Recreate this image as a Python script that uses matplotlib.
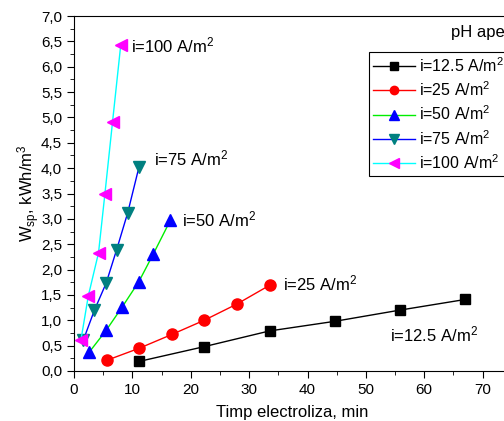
import numpy as np
import matplotlib
matplotlib.use("Agg")
import matplotlib.pyplot as plt
from matplotlib.ticker import MultipleLocator

plt.rcParams['font.family'] = ['Liberation Sans', 'DejaVu Sans']
plt.rcParams['mathtext.fontset'] = 'custom'
plt.rcParams['mathtext.rm'] = 'Liberation Sans'
plt.rcParams['mathtext.it'] = 'Liberation Sans'

# data
t_125 = [11.2, 22.3, 33.5, 44.7, 55.8, 67.0]
w_125 = [0.19, 0.48, 0.79, 0.98, 1.20, 1.41]

t_25 = [5.6, 11.2, 16.75, 22.3, 27.9, 33.5]
w_25 = [0.21, 0.45, 0.72, 1.00, 1.32, 1.69]

t_50 = [2.6, 5.5, 8.3, 11.1, 13.6, 16.5]
w_50 = [0.37, 0.80, 1.27, 1.76, 2.31, 2.97]

t_75 = [1.6, 3.5, 5.5, 7.3, 9.2, 11.15]
w_75 = [0.61, 1.20, 1.73, 2.39, 3.12, 4.03]

t_100 = [1.2, 2.45, 4.2, 5.3, 6.6, 8.0]
w_100 = [0.62, 1.48, 2.33, 3.50, 4.91, 6.42]

labels = ["i=12.5 A/m$^2$", "i=25 A/m$^2$", "i=50 A/m$^2$", "i=75 A/m$^2$", "i=100 A/m$^2$"]

fig = plt.figure(figsize=(5.04, 4.21), dpi=100)
# the original is cropped on the right, so the axes run past the figure edge
ax = fig.add_axes([74/504, 50/421, 467/504, 355/421])

ax.plot(t_125, w_125, color='black', lw=1, marker='s', ms=7, mfc='black', mec='black', label=labels[0])
ax.plot(t_25, w_25, color='red', lw=1, marker='o', ms=8, mfc='red', mec='red', label=labels[1])
ax.plot(t_50, w_50, color='#00ee00', lw=1, marker='^', ms=9, mfc='blue', mec='blue', label=labels[2])
ax.plot(t_75, w_75, color='blue', lw=1, marker='v', ms=9, mfc='#008080', mec='#008080', label=labels[3])
ax.plot(t_100, w_100, color='cyan', lw=1, marker='<', ms=9, mfc='magenta', mec='magenta', label=labels[4])

ax.set_xlim(0, 80)
ax.set_ylim(0, 7)
ax.xaxis.set_major_locator(MultipleLocator(10))
ax.xaxis.set_minor_locator(MultipleLocator(5))
ax.yaxis.set_major_locator(MultipleLocator(0.5))
ax.yaxis.set_minor_locator(MultipleLocator(0.25))
ax.yaxis.set_major_formatter(plt.FuncFormatter(lambda v, p: ("%.1f" % v).replace('.', ',')))
ax.tick_params(which='major', direction='out', length=5, labelsize=11, top=False, right=False)
ax.tick_params(which='minor', direction='out', length=3, top=False, right=False)
ax.set_xticks([0, 10, 20, 30, 40, 50, 60, 70])

ax.set_xlabel("Timp electroliza, min", fontsize=12)
ax.xaxis.set_label_coords(218/467, -34/355)
ax.set_ylabel("W$_{sp}$, kWh/m$^3$", fontsize=12)
ax.yaxis.set_label_coords(-32/467, 0.5)

ax.text(9.8, 6.42, labels[4], fontsize=12, va='center')
ax.text(13.7, 4.2, labels[3], fontsize=12, va='center')
ax.text(18.5, 2.99, labels[2], fontsize=12, va='center')
ax.text(35.8, 1.72, labels[1], fontsize=12, va='center')
ax.text(54.2, 0.72, labels[0], fontsize=12, va='center')
# cut by the right edge, as in the original
ax.text(64.5, 6.68, "pH apei", fontsize=12, va='center')

leg = ax.legend(loc='upper left', bbox_to_anchor=(295/467, 1 - 36/355), fontsize=11.5,
                frameon=True, fancybox=False, edgecolor='black', framealpha=1,
                handlelength=2.6, borderpad=0.25, labelspacing=0.35, handletextpad=0.3,
                borderaxespad=0, markerscale=0.75)
leg.get_frame().set_linewidth(0.8)

fig.savefig("out.png", dpi=100)
